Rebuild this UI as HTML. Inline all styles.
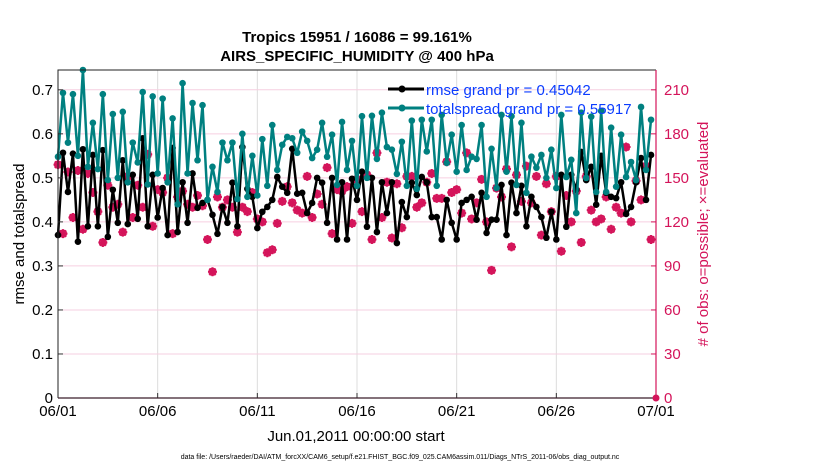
<!DOCTYPE html>
<html><head><meta charset="utf-8"><style>
body{margin:0;background:#fff;width:830px;height:470px;overflow:hidden;font-family:"Liberation Sans",sans-serif}
svg text{font-family:"Liberation Sans",sans-serif}
</style></head><body>
<svg id="chart" width="830" height="470" xmlns="http://www.w3.org/2000/svg">
<text x="357" y="42" font-size="15" font-weight="bold" text-anchor="middle">Tropics 15951 / 16086 = 99.161%</text>
<text x="357" y="61" font-size="15" font-weight="bold" text-anchor="middle">AIRS_SPECIFIC_HUMIDITY @ 400 hPa</text>
<g id="grid"></g>
<g id="marks"></g>
<g id="axes"></g>
<text transform="translate(24,234) rotate(-90)" font-size="15" text-anchor="middle">rmse and totalspread</text>
<text transform="translate(708,234) rotate(-90)" font-size="15" fill="#d4145a" text-anchor="middle"># of obs: o=possible; ×=evaluated</text>
<text x="356" y="441" font-size="15" text-anchor="middle">Jun.01,2011 00:00:00 start</text>
<text x="400" y="459" font-size="7" text-anchor="middle">data file: /Users/raeder/DAI/ATM_forcXX/CAM6_setup/f.e21.FHIST_BGC.f09_025.CAM6assim.011/Diags_NTrS_2011-06/obs_diag_output.nc</text>
<g>
<line x1="388" y1="89" x2="424" y2="89" stroke="#000" stroke-width="3"/><circle cx="402" cy="89" r="3.5" fill="#000"/>
<text x="426" y="95" font-size="15" fill="#0a3cff">rmse grand pr = 0.45042</text>
<line x1="388" y1="108" x2="424" y2="108" stroke="#008080" stroke-width="3"/><circle cx="402" cy="108" r="3.5" fill="#008080"/>
<text x="426" y="114" font-size="15" fill="#0a3cff">totalspread grand pr = 0.55917</text>
</g>
</svg>
<script>
const spread=[0.548,0.693,0.58,0.69,0.55,0.745,0.525,0.625,0.52,0.69,0.495,0.645,0.50,0.65,0.49,0.58,0.535,0.695,0.485,0.685,0.51,0.68,0.49,0.635,0.44,0.715,0.51,0.67,0.54,0.665,0.45,0.525,
0.468,0.58,0.54,0.58,0.452,0.60,0.457,0.55,0.46,0.588,0.482,0.62,0.518,0.575,0.593,0.59,0.557,0.605,0.584,0.545,0.564,0.625,0.548,0.598,0.484,0.627,0.518,0.584,0.482,0.64,
0.5,0.641,0.543,0.648,0.57,0.564,0.509,0.582,0.482,0.63,0.475,0.632,0.56,0.632,0.482,0.643,0.534,0.598,0.514,0.62,0.518,0.548,0.543,0.62,0.457,0.566,0.477,0.643,0.514,0.64,
0.484,0.625,0.466,0.548,0.523,0.552,0.5,0.564,0.477,0.643,0.502,0.541,0.42,0.648,0.5,0.639,0.468,0.652,0.468,0.614,0.48,0.598,0.502,0.536,0.495,0.661,0.518,0.632];
const rmse=[0.37,0.557,0.468,0.555,0.355,0.565,0.39,0.552,0.39,0.563,0.366,0.473,0.398,0.54,0.395,0.507,0.407,0.59,0.39,0.507,0.41,0.477,0.37,0.568,0.377,0.49,0.398,0.51,0.432,0.443,0.45,0.416,
0.373,0.434,0.398,0.489,0.39,0.57,0.475,0.457,0.386,0.423,0.434,0.45,0.502,0.48,0.466,0.566,0.464,0.466,0.42,0.443,0.5,0.489,0.398,0.5,0.36,0.49,0.36,0.498,0.45,0.514,
0.389,0.5,0.377,0.49,0.42,0.49,0.352,0.445,0.411,0.489,0.461,0.502,0.49,0.411,0.411,0.36,0.45,0.398,0.36,0.443,0.45,0.457,0.405,0.466,0.375,0.405,0.405,0.484,0.37,0.489,
0.42,0.482,0.39,0.457,0.434,0.411,0.364,0.423,0.36,0.507,0.389,0.507,0.473,0.559,0.495,0.525,0.439,0.55,0.466,0.457,0.454,0.49,0.418,0.434,0.49,0.545,0.45,0.552];
const nobs=[159,112,154,123,155,115,153,140,127,106,145,130,132,113,151,123,145,130,166,117,142,140,150,112,137,141,132,130,138,131,108,86,
137,130,135,130,113,130,127,140,122,120,99,101,119,134,144,133,128,126,151,123,139,132,157,112,142,141,144,119,149,127,
152,108,167,123,147,109,146,116,151,151,130,133,147,153,136,136,161,140,142,126,167,122,133,149,120,87,143,137,156,103,
152,134,158,133,151,111,146,127,151,100,138,120,141,106,151,128,120,122,137,115,130,126,171,120,148,135,158,108];
const xTickLabels=["06/01","06/06","06/11","06/16","06/21","06/26","07/01"];
const xTickDays=[0,5,10,15,20,25,30];
const yTicksLeft=[0,0.1,0.2,0.3,0.4,0.5,0.6,0.7];
const yTicksRight=[0,30,60,90,120,150,180,210];

const NS="http://www.w3.org/2000/svg";
const L=58,R=656,T=70,B=398;
const xs=d=>L+(R-L)*d/30;
const yl=v=>B-(B-T)*v/0.745;
const yr=c=>B-(B-T)*c/(0.745*300);
const PINK="#d4145a";
function mk(tag,attrs,parent){const e=document.createElementNS(NS,tag);for(const k in attrs)e.setAttribute(k,attrs[k]);parent.appendChild(e);return e;}
const grid=document.getElementById('grid'),marks=document.getElementById('marks'),axes=document.getElementById('axes');
mk('rect',{x:L,y:T,width:R-L,height:B-T,fill:'#fff'},grid);
xTickDays.forEach((d,i)=>{
  if(d>0&&d<30){const g=mk('line',{x1:xs(d),x2:xs(d),y1:T,y2:B,stroke:'#dcdcdc','stroke-width':1},grid);
  
  }
  const t=mk('text',{x:xs(d),y:B+18,'font-size':15,'text-anchor':'middle'},axes);t.textContent=xTickLabels[i];
  
  
  mk('line',{x1:xs(d),x2:xs(d),y1:B,y2:B-5,stroke:'#333'},axes);
});
yTicksRight.forEach(c=>{
  if(c>0){const g=mk('line',{x1:L,x2:R,y1:yr(c),y2:yr(c),stroke:'#f6cfe0','stroke-width':1},grid);
  
  }
  mk('line',{x1:R,x2:R-5,y1:yr(c),y2:yr(c),stroke:PINK},axes);
  const t=mk('text',{x:R+8,y:yr(c)+5,'font-size':15,fill:PINK},axes);t.textContent=c;
  
  
});
yTicksLeft.forEach(v=>{
  mk('line',{x1:L,x2:L+5,y1:yl(v),y2:yl(v),stroke:'#333'},axes);
  const t=mk('text',{x:L-5,y:yl(v)+5,'font-size':15,'text-anchor':'end'},axes);t.textContent=v;
  
  
});
mk('path',{d:`M${L},${B}V${T}H${R}`,fill:'none',stroke:'#222','stroke-width':1},axes);
mk('line',{x1:L,x2:R,y1:B,y2:B,stroke:'#3a1f2a','stroke-width':1.2},axes);
mk('line',{x1:R,x2:R,y1:T,y2:B,stroke:PINK,'stroke-width':1.2},axes);
const zm=mk('circle',{cx:R,cy:B,r:3.5,fill:PINK},axes);


const dx=i=>xs(i*0.25);
// nobs markers
nobs.forEach((c,i)=>{
  const g=mk('g',{},marks);
  
  
  const x=dx(i),y=yr(c);
  mk('circle',{cx:x,cy:y,r:3.5,fill:'none',stroke:PINK,'stroke-width':1.3},g);
  mk('path',{d:`M${x-4.5},${y}H${x+4.5}M${x},${y-4.5}V${y+4.5}M${x-3.2},${y-3.2}L${x+3.2},${y+3.2}M${x-3.2},${y+3.2}L${x+3.2},${y-3.2}`,stroke:PINK,'stroke-width':2},g);
});
function series(arr,color,name){
  const p=mk('polyline',{points:arr.map((v,i)=>dx(i)+','+yl(v)).join(' '),fill:'none',stroke:color,'stroke-width':2.5,'stroke-linejoin':'round'},marks);
  
  
  arr.forEach((v,i)=>{const c=mk('circle',{cx:dx(i),cy:yl(v),r:3.3,fill:color},marks);
  
  });
}
series(rmse,'#000','rmse');
series(spread,'#008080','totalspread');
</script>
</body></html>
